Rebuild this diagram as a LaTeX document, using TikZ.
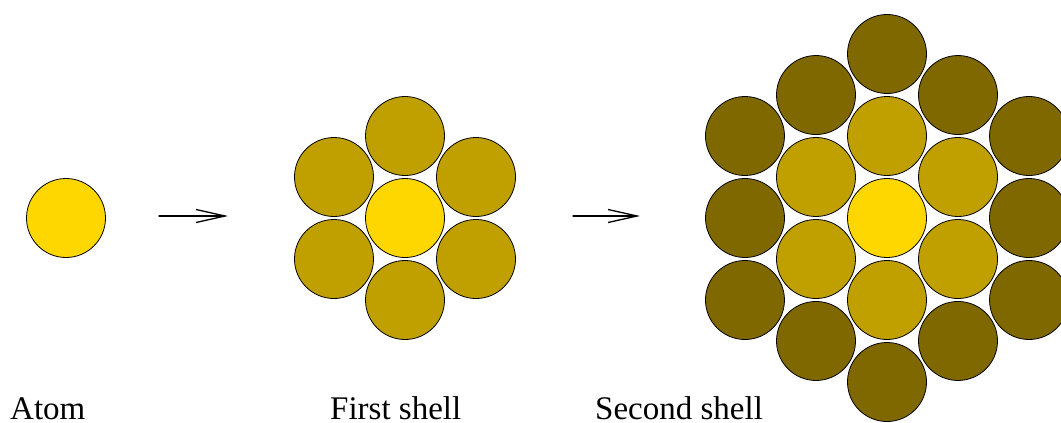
\documentclass[tikz,border=0pt]{standalone}
\usepackage{fontspec}
\setmainfont{Liberation Serif}
\usetikzlibrary{arrows.meta}
\definecolor{corecol}{RGB}{255,215,0}
\definecolor{firstcol}{RGB}{192,160,0}
\definecolor{secondcol}{RGB}{128,104,0}

\begin{document}
\begin{tikzpicture}[x=1pt, y=-1pt, >={Straight Barb[length=29pt,width=13pt]}, line cap=round, line join=round,
	ball/.style={circle, draw=black, line width=0.8pt, minimum size=79pt, inner sep=0pt},
	shelltext/.style={anchor=base west, inner sep=0pt, font=\fontsize{33}{38}\selectfont}]
	
	\useasboundingbox (0,0) rectangle (1061,423);
	\clip (0,0) rectangle (1061,423);
	
	%========================
	% Left: single atom
	%========================
	\node[ball, fill=corecol] (atom) at (66,218) {};
	\node[shelltext] (atomtxt) at (10,419.5) {Atom};
	
	% arrow to first shell
	\coordinate (arrAs) at (159,216);
	\coordinate (arrAe) at (228,216);
	\draw[->, line width=1.3pt] (arrAs) -- (arrAe);
	
	%========================
	% Middle: first shell
	%========================
	\begin{scope}[shift={(405,218)}]
		\foreach \a [count=\i] in {30,90,...,330}
			\node[ball, fill=firstcol] (fa\i) at (\a:82) {};
		\node[ball, fill=corecol] (fcore) at (0,0) {};
	\end{scope}
	\node[shelltext] (firsttxt) at (330,419.5) {First shell};
	
	% arrow to second shell
	\coordinate (arrBs) at (573,216);
	\coordinate (arrBe) at (640,216);
	\draw[->, line width=1.3pt] (arrBs) -- (arrBe);
	
	%========================
	% Right: second shell
	%========================
	\begin{scope}[shift={(887,218)}]
		% outer ring: corners and edge midpoints
		\foreach \a [count=\i] in {30,90,...,330}
			\node[ball, fill=secondcol] (sc\i) at (\a:164) {};
		\foreach \a [count=\i] in {0,60,...,300}
			\node[ball, fill=secondcol] (se\i) at (\a:142) {};
		% inner ring
		\foreach \a [count=\i] in {30,90,...,330}
			\node[ball, fill=firstcol] (sa\i) at (\a:82) {};
		\node[ball, fill=corecol] (score) at (0,0) {};
	\end{scope}
	\node[shelltext] (secondtxt) at (595,419.5) {Second shell};
	
\end{tikzpicture}
\end{document}
